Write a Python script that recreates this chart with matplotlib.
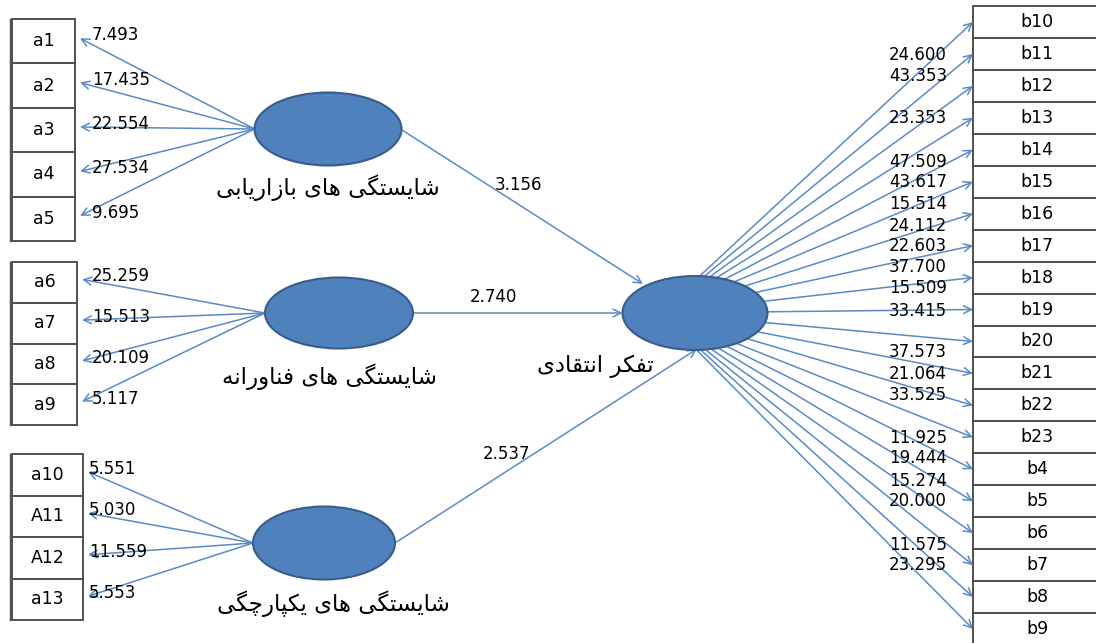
import matplotlib
matplotlib.use('Agg')
import matplotlib.pyplot as plt
from matplotlib.patches import Ellipse, Rectangle

# --- data -------------------------------------------------------------
marketing_name = 'شایستگی های بازاریابی'
tech_name = 'شایستگی های فناورانه'
integ_name = 'شایستگی های یکپارچگی'
critical_name = 'تفکر انتقادی'

marketing_items = ['a1', 'a2', 'a3', 'a4', 'a5']
marketing_t = [7.493, 17.435, 22.554, 27.534, 9.695]

tech_items = ['a6', 'a7', 'a8', 'a9']
tech_t = [25.259, 15.513, 20.109, 5.117]

integ_items = ['a10', 'A11', 'A12', 'a13']
integ_t = [5.551, 5.030, 11.559, 5.553]

critical_items = ['b10', 'b11', 'b12', 'b13', 'b14', 'b15', 'b16', 'b17', 'b18', 'b19',
                  'b20', 'b21', 'b22', 'b23', 'b4', 'b5', 'b6', 'b7', 'b8', 'b9']
critical_t = [24.600, 43.353, 23.353, 47.509, 43.617, 15.514, 24.112, 22.603, 37.700, 15.509,
              33.415, 37.573, 21.064, 33.525, 11.925, 19.444, 15.274, 20.000, 11.575, 23.295]

path_t = [3.156, 2.740, 2.537]

# --- layout (pixels, y down) -----------------------------------------
right_label_y = [55, 76, 118, 162, 182, 204, 226, 246, 267, 288,
                 311, 352, 374, 395, 438, 458, 481, 501, 545, 565]

BLUE = '#4f81bd'
EDGE = '#385d8a'
LINE = '#5a8ac6'
BOX = '#505050'
NUM_FS = 12
BOX_FS = 12.5
FA_FS = 16.5

# simple persian shaping (presentation forms + reverse for LTR drawing)
FORMS = {
    '\u0627': ('\uFE8D', '\uFE8E', None, None),
    '\u0628': ('\uFE8F', '\uFE90', '\uFE91', '\uFE92'),
    '\u062A': ('\uFE95', '\uFE96', '\uFE97', '\uFE98'),
    '\u062F': ('\uFEA9', '\uFEAA', None, None),
    '\u0631': ('\uFEAD', '\uFEAE', None, None),
    '\u0632': ('\uFEAF', '\uFEB0', None, None),
    '\u0633': ('\uFEB1', '\uFEB2', '\uFEB3', '\uFEB4'),
    '\u0634': ('\uFEB5', '\uFEB6', '\uFEB7', '\uFEB8'),
    '\u0641': ('\uFED1', '\uFED2', '\uFED3', '\uFED4'),
    '\u0642': ('\uFED5', '\uFED6', '\uFED7', '\uFED8'),
    '\u0646': ('\uFEE5', '\uFEE6', '\uFEE7', '\uFEE8'),
    '\u0647': ('\uFEE9', '\uFEEA', '\uFEEB', '\uFEEC'),
    '\u0648': ('\uFEED', '\uFEEE', None, None),
    '\u067E': ('\uFB56', '\uFB57', '\uFB58', '\uFB59'),
    '\u0686': ('\uFB7A', '\uFB7B', '\uFB7C', '\uFB7D'),
    '\u06A9': ('\uFB8E', '\uFB8F', '\uFB90', '\uFB91'),
    '\u06AF': ('\uFB92', '\uFB93', '\uFB94', '\uFB95'),
    '\u06CC': ('\uFBFC', '\uFBFD', '\uFBFE', '\uFBFF'),
}


def shape(s):
    s = s.replace('\u064A', '\u06CC').replace('\u0643', '\u06A9')
    out = []
    for i, c in enumerate(s):
        f = FORMS.get(c)
        if f is None:
            out.append(c)
            continue
        prev = s[i - 1] if i > 0 else ''
        nxt = s[i + 1] if i + 1 < len(s) else ''
        jp = prev in FORMS and FORMS[prev][2] is not None
        jn = f[2] is not None and nxt in FORMS
        if jp and jn:
            out.append(f[3])
        elif jp:
            out.append(f[1])
        elif jn:
            out.append(f[2])
        else:
            out.append(f[0])
    return ''.join(reversed(out))


fig = plt.figure(figsize=(10.96, 6.43), dpi=100)
ax = fig.add_axes([0, 0, 1, 1])
ax.set_xlim(0, 1096)
ax.set_ylim(643, 0)
ax.axis('off')


def arrow(x0, y0, x1, y1, z=2):
    ax.annotate('', xy=(x1, y1), xytext=(x0, y0),
                arrowprops=dict(arrowstyle='->', color=LINE, lw=1.1,
                                shrinkA=0, shrinkB=0, mutation_scale=14),
                zorder=z)


def latent(cx, cy, w, h, name, lx, ly):
    ax.add_patch(Ellipse((cx, cy), w, h, facecolor=BLUE, edgecolor=EDGE, lw=1.5, zorder=3))
    ax.text(lx, ly, shape(name), fontsize=FA_FS, ha='center', va='center',
            family='DejaVu Sans', color='black')


def left_block(items, tvals, x0, x1, top, bottom, tx, cx, cy, w, h, name, lx, ly):
    n = len(items)
    rh = (bottom - top) / n
    for i, (it, t) in enumerate(zip(items, tvals)):
        y = top + i * rh
        ax.add_patch(Rectangle((x0, y), x1 - x0, rh, facecolor='white', edgecolor=BOX, lw=1.4, zorder=1))
        ax.text((x0 + x1) / 2, y + rh / 2, it, fontsize=BOX_FS, ha='center', va='center', color='black')
        arrow(cx - w / 2, cy, x1 + 5, y + rh / 2 - 3)
        ax.text(tx, y + rh / 2 - 6, f'{t:.3f}', fontsize=NUM_FS, ha='left', va='center', color='black')
    ax.plot([x0 - 2, x0 - 2], [top, bottom], color=BOX, lw=1.0)
    latent(cx, cy, w, h, name, lx, ly)


left_block(marketing_items, marketing_t, 12, 75, 19, 241, 92, 328, 129, 147, 73, marketing_name, 328, 188)
left_block(tech_items, tech_t, 12, 77, 262, 425, 92, 339, 313, 148, 71, tech_name, 330, 377)
left_block(integ_items, integ_t, 12, 83, 454, 620, 89, 324, 543, 142, 73, integ_name, 333, 604)

# central latent
ccx, ccy, cw, ch = 695, 313, 145, 74
latent(ccx, ccy, cw, ch, critical_name, 595, 366)

# structural paths
arrow(402, 130, 643, 284)
arrow(413, 313, ccx - cw / 2, 313)
arrow(395, 543, 697, 349)
ax.text(518, 185, f'{path_t[0]:.3f}', fontsize=NUM_FS, ha='center', va='center')
ax.text(493, 297, f'{path_t[1]:.3f}', fontsize=NUM_FS, ha='center', va='center')
ax.text(507, 454, f'{path_t[2]:.3f}', fontsize=NUM_FS, ha='center', va='center')

# right indicators
bx0, btop, brh = 973, 6, 31.95
for i, it in enumerate(critical_items):
    y = btop + i * brh
    ax.add_patch(Rectangle((bx0, y), 140, brh, facecolor='white', edgecolor=BOX, lw=1.4, zorder=1))
    ax.text(1037, y + brh / 2, it, fontsize=BOX_FS, ha='center', va='center')
    arrow(660, ccy, bx0, y + brh / 2)
for t, ly in zip(critical_t, right_label_y):
    ax.text(947, ly, f'{t:.3f}', fontsize=NUM_FS, ha='right', va='center')

fig.savefig('out.png', dpi=100)
